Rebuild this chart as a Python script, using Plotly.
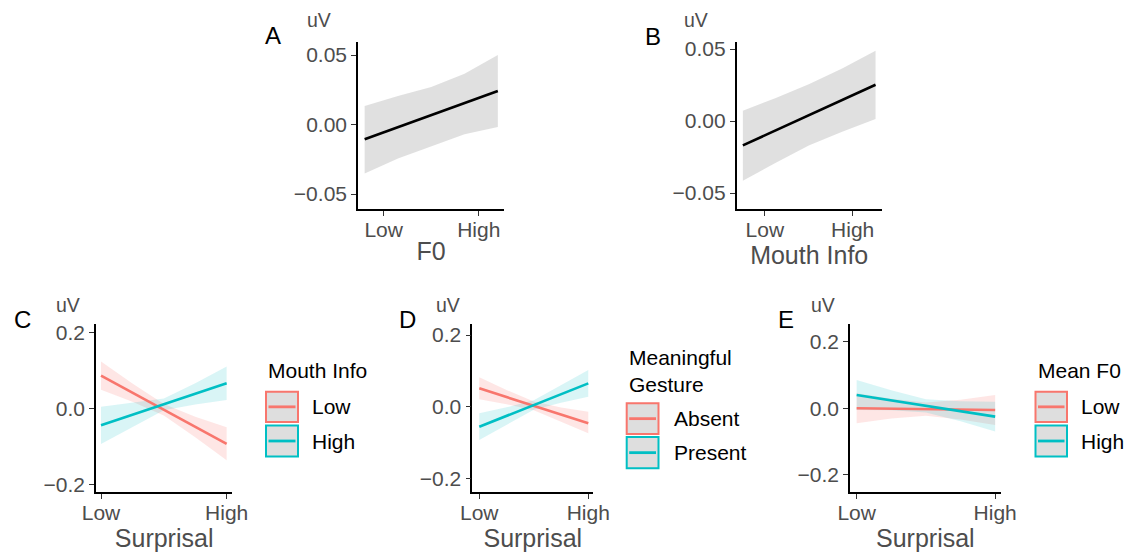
import plotly.graph_objects as go

# ---------------- data ----------------
# Panel A: F0 effect
a_x = [-0.2, 0.15, 0.5, 0.85, 1.2]
a_fit = [-0.0106, 0.0242]
a_upper = [0.0134, 0.0205, 0.0270, 0.0365, 0.0501]
a_lower = [-0.0353, -0.0245, -0.0155, -0.0070, -0.0017]

# Panel B: Mouth Info effect
b_x = [-0.25, 0.125, 0.5, 0.88, 1.26]
b_fit = [-0.0169, 0.0252]
b_upper = [0.0072, 0.0160, 0.0255, 0.0365, 0.0488]
b_lower = [-0.0414, -0.0290, -0.0170, -0.0075, 0.0014]

# Panels C-E: Surprisal interactions
s_x = [0, 0.25, 0.5, 0.75, 1]

c_low_fit = [0.0858, -0.0939]
c_low_upper = [0.1228, 0.065, 0.011, -0.022, -0.050]
c_low_lower = [0.0488, 0.017, -0.019, -0.076, -0.137]
c_high_fit = [-0.0447, 0.0658]
c_high_upper = [0.0043, 0.015, 0.026, 0.066, 0.1098]
c_high_lower = [-0.0937, -0.049, -0.005, 0.010, 0.0218]

d_abs_fit = [0.0513, -0.0463]
d_abs_upper = [0.082, 0.047, 0.0145, -0.0019, -0.014]
d_abs_lower = [0.0206, 0.0069, -0.0095, -0.0419, -0.0742]
d_pres_fit = [-0.0558, 0.0653]
d_pres_upper = [-0.0184, -0.0015, 0.0178, 0.059, 0.1024]
d_pres_lower = [-0.093, -0.0495, -0.0082, 0.011, 0.0279]

e_low_fit = [0.0, -0.005]
e_low_upper = [0.045, 0.029, 0.0175, 0.026, 0.040]
e_low_lower = [-0.045, -0.031, -0.0225, -0.034, -0.050]
e_high_fit = [0.040, -0.025]
e_high_upper = [0.085, 0.054, 0.0275, 0.021, 0.020]
e_high_lower = [-0.005, -0.006, -0.0125, -0.039, -0.070]

x_tickvals = [0, 1]
x_ticktext = ["Low", "High"]
ab_yticks = [-0.05, 0.0, 0.05]
cde_yticks = [-0.2, 0.0, 0.2]

panel_letters = ["A", "B", "C", "D", "E"]
x_titles = ["F0", "Mouth Info", "Surprisal", "Surprisal", "Surprisal"]
legend_titles = ["Mouth Info", "Meaningful<br>Gesture", "Mean F0"]
legend_labels = [["Low", "High"], ["Absent", "Present"], ["Low", "High"]]

# ---------------- styling ----------------
# the page body keeps its default 8px margin, so the figure is drawn 8px in
OFF = 8
W, H = 1137 - OFF, 552 - OFF
FONT = "Liberation Sans, Arial, Helvetica, sans-serif"
RED = "#F8766D"
TEAL = "#00BFC4"
RED_FILL = "rgba(248,118,109,0.18)"
TEAL_FILL = "rgba(0,191,196,0.15)"
GREY_FILL = "rgba(153,153,153,0.3)"
TICK_GREY = "#4D4D4D"


def px(x):
    return (x - OFF) / W


def py(y):
    return 1 - (y - OFF) / H


fig = go.Figure()


def axname(n):
    return "" if n == 1 else str(n)


def ribbon(xs, upper, lower, fill, n):
    fig.add_trace(go.Scatter(
        x=list(xs) + list(xs)[::-1], y=list(upper) + list(lower)[::-1],
        fill="toself", fillcolor=fill, mode="lines", line=dict(width=0),
        hoverinfo="skip", showlegend=False,
        xaxis="x" + axname(n), yaxis="y" + axname(n)))


def fitline(xs, fit, color, n):
    fig.add_trace(go.Scatter(
        x=[xs[0], xs[-1]], y=fit, mode="lines", line=dict(color=color, width=2.6),
        showlegend=False,
        xaxis="x" + axname(n), yaxis="y" + axname(n)))


# A
ribbon(a_x, a_upper, a_lower, GREY_FILL, 1)
fitline(a_x, a_fit, "black", 1)
# B
ribbon(b_x, b_upper, b_lower, GREY_FILL, 2)
fitline(b_x, b_fit, "black", 2)
# C
ribbon(s_x, c_low_upper, c_low_lower, RED_FILL, 3)
ribbon(s_x, c_high_upper, c_high_lower, TEAL_FILL, 3)
fitline(s_x, c_low_fit, RED, 3)
fitline(s_x, c_high_fit, TEAL, 3)
# D
ribbon(s_x, d_abs_upper, d_abs_lower, RED_FILL, 4)
ribbon(s_x, d_pres_upper, d_pres_lower, TEAL_FILL, 4)
fitline(s_x, d_abs_fit, RED, 4)
fitline(s_x, d_pres_fit, TEAL, 4)
# E
ribbon(s_x, e_low_upper, e_low_lower, RED_FILL, 5)
ribbon(s_x, e_high_upper, e_high_lower, TEAL_FILL, 5)
fitline(s_x, e_low_fit, RED, 5)
fitline(s_x, e_high_fit, TEAL, 5)

# panel geometry (reference pixels): x0, x1, y_top, y_bottom
panels = [
    (358, 504, 42, 209),
    (736.7, 881.7, 41.7, 209.3),
    (96, 232.3, 324.3, 491.7),
    (472.3, 593.3, 324.3, 491.7),
    (850, 1000.7, 324.3, 492.3),
]
xranges = [[-0.27, 1.265], [-0.32, 1.33], [-0.04, 1.045], [-0.064, 1.046], [-0.048, 1.04]]
yranges = [[-0.0608, 0.0594], [-0.0613, 0.0551], [-0.2195, 0.221], [-0.237, 0.23], [-0.2526, 0.2526]]

layout = dict(
    width=W, height=H, autosize=False,
    margin=dict(l=0, r=0, t=0, b=0),
    paper_bgcolor="white", plot_bgcolor="white",
    font=dict(family=FONT, color="black"),
    showlegend=False,
)

for i, (x0, x1, yt, yb) in enumerate(panels):
    n = i + 1
    sx = "xaxis" + axname(n)
    sy = "yaxis" + axname(n)
    yticks = ab_yticks if i < 2 else cde_yticks
    layout[sx] = dict(
        domain=[px(x0), px(x1)], range=xranges[i], anchor="y" + axname(n),
        tickvals=x_tickvals, ticktext=x_ticktext,
        showline=True, linecolor="black", linewidth=1.6,
        ticks="outside", ticklen=5, tickwidth=1.3, tickcolor="#333333",
        ticklabelstandoff=-4,
        showgrid=False, zeroline=False, automargin=False,
        tickfont=dict(size=21, color=TICK_GREY, family=FONT),
        title=dict(text=x_titles[i], font=dict(size=25, color=TICK_GREY, family=FONT), standoff=2),
        fixedrange=True,
    )
    layout[sy] = dict(
        domain=[py(yb), py(yt)], range=yranges[i], anchor="x" + axname(n),
        tickvals=yticks, tickformat=".2f" if i < 2 else ".1f",
        showline=True, linecolor="black", linewidth=1.6,
        ticks="outside", ticklen=5, tickwidth=1.3, tickcolor="#333333",
        showgrid=False, zeroline=False, automargin=False,
        tickfont=dict(size=21, color=TICK_GREY, family=FONT),
        fixedrange=True,
    )

annotations = []
# panel letters
letter_pos = [(263, 35), (643, 36), (12, 319), (397, 319), (776, 319)]
for (lx, ly), t in zip(letter_pos, panel_letters):
    annotations.append(dict(x=px(lx), y=py(ly), xref="paper", yref="paper", text=t,
                            showarrow=False, xanchor="left", yanchor="middle",
                            font=dict(size=24, color="black", family=FONT)))
# uV labels
uv_pos = [(305, 20), (682, 20), (54, 305), (434, 305), (809, 305)]
for (lx, ly) in uv_pos:
    annotations.append(dict(x=px(lx), y=py(ly), xref="paper", yref="paper", text="uV",
                            showarrow=False, xanchor="left", yanchor="middle",
                            font=dict(size=19.5, color=TICK_GREY, family=FONT)))

# manual legends (ggplot-style keys)
shapes = []
legend_specs = [
    # title_x, title_y, key_x0, key_x1, key rows (y0, y1), label_x
    (266, 370, 266, 298, [(391.7, 422), (425.5, 456.5)], 310),
    (626.7, 370.5, 626.7, 658.5, [(403.3, 434), (437, 468.3)], 671.5),
    (1035.5, 370, 1035.5, 1067, [(391.7, 422), (425.5, 456.5)], 1079),
]
for j, (tx, ty, kx0, kx1, rows, lx) in enumerate(legend_specs):
    annotations.append(dict(x=px(tx), y=py(ty), xref="paper", yref="paper",
                            text=legend_titles[j], showarrow=False, xanchor="left",
                            yanchor="middle", align="left",
                            font=dict(size=21, color="black", family=FONT)))
    for (ky0, ky1), col, lab in zip(rows, [RED, TEAL], legend_labels[j]):
        shapes.append(dict(type="rect", xref="paper", yref="paper",
                           x0=px(kx0), x1=px(kx1), y0=py(ky1), y1=py(ky0),
                           fillcolor="#DEDEDE", line=dict(color=col, width=2)))
        ym = (ky0 + ky1) / 2
        shapes.append(dict(type="line", xref="paper", yref="paper",
                           x0=px(kx0 + 2.5), x1=px(kx1 - 2.5), y0=py(ym), y1=py(ym),
                           line=dict(color=col, width=2.8)))
        annotations.append(dict(x=px(lx), y=py(ym), xref="paper", yref="paper", text=lab,
                                showarrow=False, xanchor="left", yanchor="middle",
                                font=dict(size=21, color="black", family=FONT)))

layout["annotations"] = annotations
layout["shapes"] = shapes
fig.update_layout(**layout)

fig.write_html("out.html")
